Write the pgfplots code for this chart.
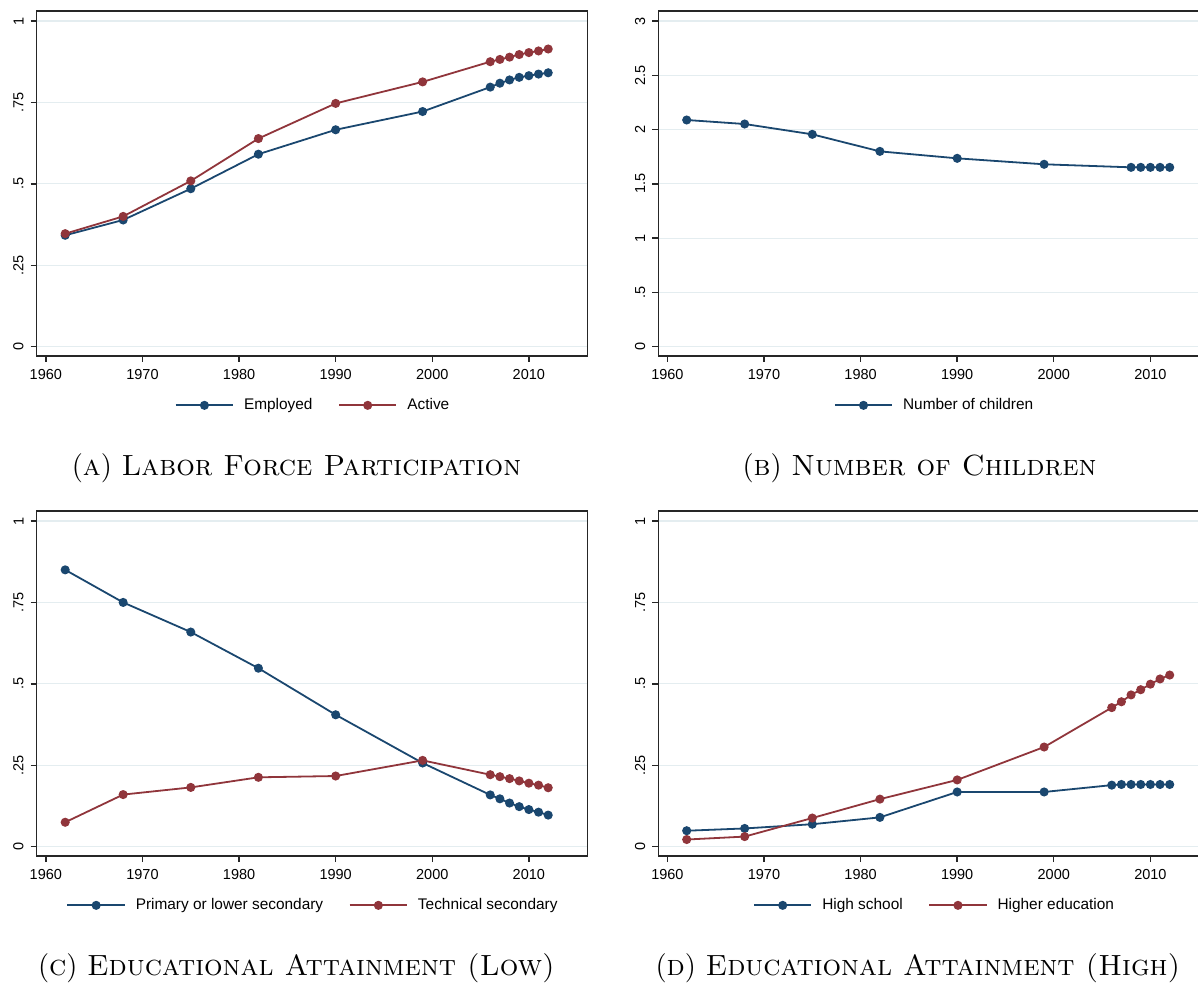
\documentclass[border=0pt]{standalone}
\usepackage{fontspec}
\usepackage{pgfplots}
\usepackage{pgfplotstable}
\pgfplotsset{compat=1.18}
\newfontfamily\statafont{Liberation Sans}
\definecolor{stnavy}{RGB}{26,71,111}
\definecolor{stmaroon}{RGB}{144,53,59}
\definecolor{stgrid}{RGB}{228,237,240}

% labor force participation
\pgfplotstableread{
year emp act
1962 0.342 0.347
1968 0.389 0.400
1975 0.485 0.509
1982 0.591 0.639
1990 0.666 0.747
1999 0.722 0.813
2006 0.797 0.875
2007 0.809 0.882
2008 0.819 0.889
2009 0.827 0.897
2010 0.832 0.903
2011 0.837 0.908
2012 0.841 0.914
}\lfp

% number of children
\pgfplotstableread{
year kids
1962 2.088
1968 2.051
1975 1.956
1982 1.799
1990 1.735
1999 1.680
2008 1.652
2009 1.652
2010 1.652
2011 1.652
2012 1.652
}\kids

% educational attainment, low
\pgfplotstableread{
year prim tech
1962 0.850 0.075
1968 0.750 0.160
1975 0.659 0.182
1982 0.548 0.213
1990 0.405 0.217
1999 0.257 0.265
2006 0.159 0.221
2007 0.147 0.215
2008 0.134 0.209
2009 0.123 0.202
2010 0.114 0.195
2011 0.106 0.189
2012 0.097 0.181
}\edlow

% educational attainment, high
\pgfplotstableread{
year hs higher
1962 0.049 0.022
1968 0.056 0.031
1975 0.069 0.088
1982 0.090 0.146
1990 0.168 0.205
1999 0.168 0.306
2006 0.189 0.427
2007 0.191 0.445
2008 0.191 0.466
2009 0.191 0.482
2010 0.191 0.499
2011 0.191 0.515
2012 0.191 0.527
}\edhigh

\pgfplotsset{
  panel/.style={
    scale only axis, width=275.35pt, height=172.5pt,
    anchor=south west,
    xmin=1959.05, xmax=2016.06,
    xtick={1960,1970,1980,1990,2000,2010},
    xticklabels={1960,1970,1980,1990,2000,2010},
    xtick pos=left, ytick pos=left,
    tick align=outside, major tick length=3pt,
    ymajorgrids, major grid style={stgrid, line width=0.6pt},
    axis line style={line width=0.7pt, black!85},
    tick style={line width=0.7pt, black!85},
    tick label style={font=\statafont\fontsize{7.25}{8}\selectfont},
    yticklabel style={rotate=90, anchor=south},
    legend style={at={(0.5,-0.143)}, anchor=center, draw=none, fill=none,
      legend columns=-1, font=\statafont\fontsize{7.7}{9}\selectfont,
      nodes={inner sep=0pt},
      /tikz/every odd column/.append style={column sep=5pt},
      /tikz/every even column/.append style={column sep=12.8pt}},
    legend image code/.code={\draw[mark repeat=2,mark phase=2,#1]
      plot coordinates {(0pt,0pt) (14.35pt,0pt) (28.7pt,0pt)};},
    every axis plot/.append style={line width=0.9pt, mark=*, mark size=1.8pt},
  },
  share/.style={ymin=-0.0286, ymax=1.0307,
    ytick={0,0.25,0.5,0.75,1}, yticklabels={0,.25,.5,.75,1}},
}

\begin{document}
\begin{tikzpicture}
\useasboundingbox (0,0) rectangle (599pt,493pt);

\begin{axis}[panel, share, at={(18.35pt,315pt)}]
  \addplot[stnavy] table[x=year,y=emp] {\lfp};
  \addplot[stmaroon] table[x=year,y=act] {\lfp};
  \legend{Employed, Active}
\end{axis}

\begin{axis}[panel, at={(329.1pt,315pt)},
    ymin=-0.0857, ymax=3.092,
    ytick={0,0.5,1,1.5,2,2.5,3}, yticklabels={0,.5,1,1.5,2,2.5,3}]
  \addplot[stnavy] table[x=year,y=kids] {\kids};
  \legend{Number of children}
\end{axis}

\begin{axis}[panel, share, at={(18.35pt,65pt)}]
  \addplot[stnavy] table[x=year,y=prim] {\edlow};
  \addplot[stmaroon] table[x=year,y=tech] {\edlow};
  \legend{Primary or lower secondary, Technical secondary}
\end{axis}

\begin{axis}[panel, share, at={(329.1pt,65pt)}]
  \addplot[stnavy] table[x=year,y=hs] {\edhigh};
  \addplot[stmaroon] table[x=year,y=higher] {\edhigh};
  \legend{High school, Higher education}
\end{axis}

\begin{scope}[every node/.style={anchor=base, inner sep=0pt, font=\fontsize{14.6}{17}\selectfont}]
  \node at (148.25pt,255pt) {(\textsc{a}) \textsc{Labor Force Participation}};
  \node at (459.75pt,255pt) {(\textsc{b}) \textsc{Number of Children}};
  \node at (148.25pt,5.5pt) {(\textsc{c}) \textsc{Educational Attainment (Low)}};
  \node at (459pt,5.5pt) {(\textsc{d}) \textsc{Educational Attainment (High)}};
\end{scope}
\end{tikzpicture}
\end{document}
